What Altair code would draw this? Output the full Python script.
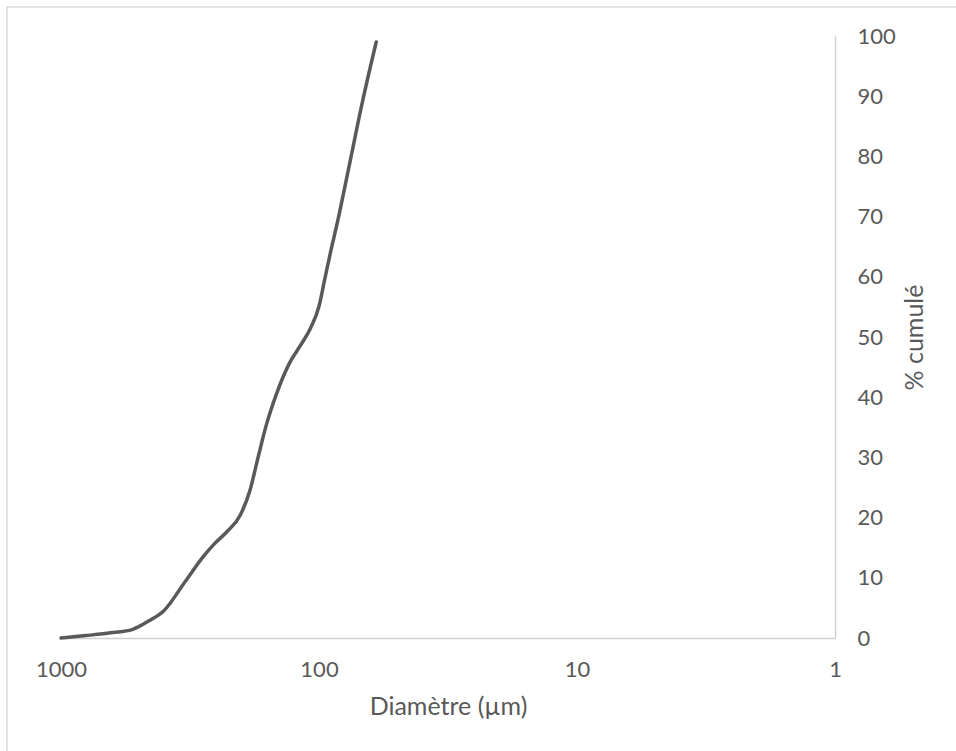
import altair as alt
import pandas as pd

# Data (diameter in µm, cumulative %)
diametre = [1000, 800, 630, 530, 450, 400, 330, 280, 255, 228, 202, 185, 172, 160, 146,
            130, 118, 108, 100, 95, 90, 85, 76, 68, 60]
cumule = [0, 0.4, 0.9, 1.4, 3.0, 4.5, 9.4, 13.6, 15.6, 17.6, 20.4, 24.6, 30.1, 35.4, 40.6,
          45.7, 48.6, 51.4, 55.1, 59.6, 64.3, 68.9, 78.9, 88.9, 99]
x_ticks = [1000, 100, 10, 1]
y_ticks = [0, 10, 20, 30, 40, 50, 60, 70, 80, 90, 100]

df = pd.DataFrame({"d": diametre, "p": cumule})

FONT = "Lato"
GREY_TXT = "#595959"
AXIS_COL = "#d0d0d0"

W, H = 774, 602

line = alt.Chart(df).mark_line(
    color="#595959", strokeWidth=3.5, interpolate="monotone", strokeCap="round"
).encode(
    x=alt.X(
        "d:Q",
        scale=alt.Scale(type="log", domain=[1, 1000], reverse=True, nice=False),
        axis=alt.Axis(
            values=x_ticks, format="d", title="Diamètre (µm)", grid=False, ticks=False,
            domainColor=AXIS_COL, domainWidth=1.5, labelPadding=21, labelFontSize=22,
            labelColor=GREY_TXT, labelFont=FONT, titleFont=FONT, titleFontSize=25,
            titleColor=GREY_TXT, titleFontWeight="normal", titlePadding=14,
            labelFlush=False,
        ),
    ),
    y=alt.Y(
        "p:Q",
        scale=alt.Scale(domain=[0, 100], nice=False),
        axis=alt.Axis(
            orient="right", values=y_ticks, title="% cumulé", grid=False, ticks=False,
            domainColor=AXIS_COL, domainWidth=1.5, labelPadding=22, labelFontSize=22,
            labelColor=GREY_TXT, labelFont=FONT, titleFont=FONT, titleFontSize=25,
            titleColor=GREY_TXT, titleFontWeight="normal", titleAngle=270,
            titlePadding=32, labelAlign="left", labelBaseline="middle", labelFlush=False,
        ),
    ),
)

frame = alt.Chart(alt.Data(values=[{}])).mark_rect(
    fill="transparent", stroke="#d9d9d9", strokeWidth=1.5
).encode(
    x=alt.value(-54), y=alt.value(-29), x2=alt.value(W + 300), y2=alt.value(H + 300)
)

chart = alt.layer(frame, line).properties(
    width=W, height=H,
    autosize=alt.AutoSizeParams(type="none"),
    padding={"left": 61, "top": 36, "right": 121, "bottom": 113},
).configure(background="white").configure_view(strokeWidth=0, stroke="transparent")

chart.save("out.html", embed_options={"renderer": "svg", "actions": False})
